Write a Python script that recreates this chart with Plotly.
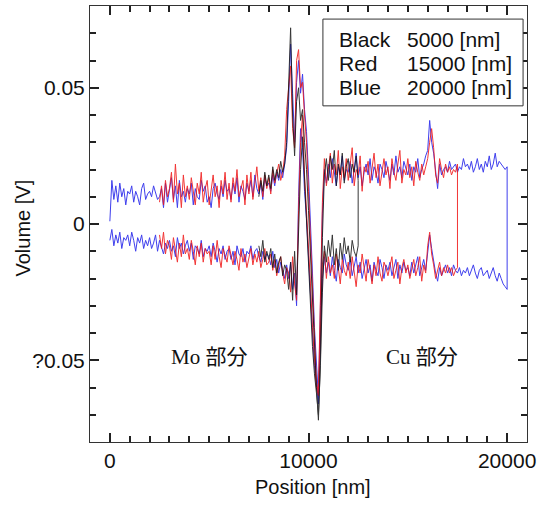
import numpy as np
import plotly.graph_objects as go

# scan data (mV); upper = forward pass, lower = return pass
# blue: 0..20000 nm, step 100
blue_start, blue_end = 0, 20000
blue_upper = [
    1, 16, 9, 14, 8, 15, 10, 13, 7, 12,
    11, 14, 8, 12, 10, 7, 13, 15, 9, 11,
    12, 10, 14, 11, 9, 10, 13, 6, 15, 8,
    12, 17, 9, 14, 6, 16, 10, 12, 8, 13,
    11, 15, 7, 13, 10, 9, 16, 12, 14, 8,
    10, 6, 13, 15, 11, 9, 14, 10, 16, 12,
    13, 9, 15, 11, 17, 8, 14, 12, 9, 15,
    12, 16, 10, 18, 13, 11, 15, 9, 17, 14,
    15, 12, 18, 14, 19, 16, 20, 17, 22, 28,
    45, 66, 48, 30, 52, 60, 48, 55, 42, 34,
    18, 2, -18, -38, -52, -64, -30, 4, 20, 15,
    22, 17, 24, 19, 14, 21, 18, 25, 16, 20,
    19, 23, 15, 20, 26, 17, 21, 14, 19, 22,
    18, 24, 16, 21, 19, 15, 22, 20, 17, 23,
    20, 16, 22, 18, 25, 19, 21, 17, 23, 20,
    18, 22, 16, 21, 19, 24, 17, 20, 22, 25,
    27, 38, 30, 26, 20, 13, 22, 18, 20, 21,
    19, 23, 20, 21, 22, 19, 21, 20, 24, 21,
    22, 20, 23, 19, 21, 24, 20, 22, 19, 23,
    21, 25, 20, 22, 26, 21, 23, 22, 21, 20,
    21,
]
blue_lower = [
    -6, -2, -8, -4, -7, -3, -9, -5, -6, -4,
    -8, -3, -6, -10, -5, -7, -4, -9, -6, -8,
    -5, -9, -7, -4, -10, -6, -8, -11, -7, -9,
    -6, -10, -8, -12, -5, -9, -7, -11, -8, -6,
    -10, -7, -13, -8, -9, -11, -6, -12, -9, -10,
    -8, -12, -7, -10, -14, -9, -11, -8, -13, -10,
    -9, -13, -10, -15, -8, -11, -12, -9, -14, -10,
    -11, -8, -13, -10, -9, -12, -14, -10, -13, -11,
    -12, -15, -10, -16, -13, -18, -14, -17, -20, -15,
    -20, -14, -24, -18, -30, 10, 35, 28, 12, 2,
    -10, -25, -40, -52, -58, -66, -45, -20, -12, -18,
    -14, -19, -12, -17, -21, -13, -16, -18, -11, -15,
    -17, -13, -19, -15, -12, -18, -14, -20, -16, -13,
    -18, -15, -21, -14, -17, -19, -13, -16, -20, -15,
    -17, -14, -19, -16, -13, -20, -15, -18, -14, -17,
    -16, -19, -14, -18, -15, -12, -19, -16, -13, -17,
    -10, -4, -9, -14, -18, -21, -16, -19, -17, -15,
    -18, -16, -19, -15, -17, -18, -16, -19, -17, -18,
    -16, -19, -17, -15, -18, -20, -17, -16, -19, -18,
    -17, -20, -18, -16, -19, -21, -18, -20, -22, -23,
    -24,
]

# red: 2500..17500 nm
red_start, red_end = 2500, 17500
red_upper = [
    8, 14, 7, 16, 10,
    13, 19, 8, 22, 11, 15, 6, 18, 10, 14,
    9, 17, 12, 7, 15, 11, 19, 8, 13, 16,
    7, 12, 18, 10, 14, 6, 16, 11, 19, 9,
    15, 8, 17, 12, 20, 10, 13, 16, 7, 18,
    11, 19, 9, 15, 21, 12, 17, 10, 18, 13,
    17, 11, 20, 15, 18, 22, 16, 19, 25, 42,
    50, 58, 35, 28, 60, 64, 50, 52, 40, 30,
    12, -5, -25, -45, -58, -62, -25, 8, 24, 14,
    20, 26, 15, 22, 18, 27, 13, 21, 17, 24,
    16, 22, 28, 14, 20, 18, 25, 12, 21, 19,
    23, 15, 20, 26, 17, 22, 14, 19, 24, 18,
    21, 13, 24, 19, 16, 22, 27, 15, 20, 18,
    24, 17, 21, 14, 23, 19, 16, 22, 18, 21,
    24, 30, 35, 28, 18, 15, 24, 20, 17, 22,
    19, 21, 18, 20, 19, 22,
]
red_lower = [
    -4, -9, -3, -11, -6,
    -8, -13, -5, -10, -14, -7, -12, -4, -11, -9,
    -13, -6, -10, -15, -8, -12, -7, -14, -9, -11,
    -10, -15, -8, -13, -6, -12, -16, -9, -11, -14,
    -8, -12, -15, -10, -13, -17, -9, -14, -11, -16,
    -12, -9, -15, -11, -14, -10, -16, -13, -9, -15,
    -14, -11, -17, -13, -19, -15, -12, -18, -22, -16,
    -18, -25, -12, -22, -28, 5, 30, 40, 18, 4,
    -8, -22, -38, -50, -60, -63, -40, -15, -10, -20,
    -12, -18, -15, -20, -11, -16, -22, -13, -17, -19,
    -14, -20, -12, -17, -23, -15, -18, -11, -16, -21,
    -13, -17, -22, -15, -19, -12, -18, -21, -14, -16,
    -19, -15, -12, -20, -17, -14, -22, -16, -13, -18,
    -15, -20, -17, -13, -19, -16, -12, -21, -15, -18,
    -8, -3, -11, -15, -20, -17, -14, -19, -16, -18,
    -15, -18, -16, -19, -17, -16,
]

# black: 7500..12500 nm
black_start, black_end = 7500, 12500
black_upper = [
    10, 16, 12, 19, 14,
    18, 13, 21, 16, 20, 17, 23, 19, 22, 30,
    55, 72, 40, 25, 45, 50, 38, 42, 30, 20,
    5, -12, -30, -48, -60, -72, -50, -5, 18, 24,
    16, 25, 20, 27, 14, 22, 18, 26, 15, 21,
    24, 17, 22, 19, 25, 16,
]
black_lower = [
    -8, -12, -6, -14, -10,
    -13, -9, -16, -11, -18, -14, -12, -19, -15, -17,
    -24, -14, -28, -10, -26, -5, 20, 32, 15, -2,
    -15, -30, -45, -55, -62, -70, -52, -25, -8, -14,
    -6, -12, -4, -15, -9, -17, -7, -13, -5, -11,
    -8, -14, -6, -10, -12, -8,
]
step = 100

legend_names = ["Black", "Red", "Blue"]
legend_vals = ["5000 [nm]", "15000 [nm]", "20000 [nm]"]

FONT = "Arial, Liberation Sans, sans-serif"
TICK = "#222"


def loop(start, end, upper, lower):
    xs = np.arange(start, end + 1, step)
    x = np.concatenate([xs, xs[::-1]])
    y = np.concatenate([np.array(upper), np.array(lower)[::-1]]) / 1000.0
    return x, y


fig = go.Figure()
for (s, e, up, lo, col) in [
    (blue_start, blue_end, blue_upper, blue_lower, "rgb(30,30,235)"),
    (red_start, red_end, red_upper, red_lower, "rgb(240,20,20)"),
    (black_start, black_end, black_upper, black_lower, "rgb(20,20,20)"),
]:
    x, y = loop(s, e, up, lo)
    fig.add_trace(go.Scatter(x=x, y=y, mode="lines",
                             line=dict(color=col, width=1), opacity=0.85,
                             showlegend=False, hoverinfo="skip"))

axis_common = dict(showgrid=False, zeroline=False, showline=True,
                   linecolor="#333", linewidth=1, mirror="ticks",
                   ticks="inside", ticklen=9, tickwidth=1.5, tickcolor=TICK,
                   tickmode="linear", tick0=0, exponentformat="none",
                   layer="above traces",
                   tickfont=dict(family=FONT, size=21, color="#111"))

fig.update_xaxes(range=[-1000, 21000], dtick=10000, tickformat="d",
                 minor=dict(dtick=1000, ticks="inside", ticklen=6,
                            tickwidth=1.5, tickcolor=TICK, showgrid=False),
                 **axis_common)
fig.update_yaxes(range=[-0.08, 0.08], dtick=0.05,
                 labelalias={"\u22120.05": "?0.05", "-0.05": "?0.05"},
                 minor=dict(dtick=0.01, ticks="inside", ticklen=6,
                            tickwidth=1.5, tickcolor=TICK, showgrid=False),
                 **axis_common)

ann = []
# axis titles
ann.append(dict(text="Position [nm]", x=0.51, y=-0.103, xref="paper", yref="paper",
                xanchor="center", yanchor="middle", showarrow=False,
                font=dict(family=FONT, size=20, color="#111")))
ann.append(dict(text="Volume [V]", x=-0.153, y=0.49, xref="paper", yref="paper",
                xanchor="center", yanchor="middle", textangle=-90, showarrow=False,
                font=dict(family=FONT, size=20, color="#111")))
# region labels
for txt, xv in [("Mo 部分", 5000), ("Cu 部分", 15700)]:
    ann.append(dict(text=txt, x=xv, y=-0.0488, xref="x", yref="y", showarrow=False,
                    font=dict(family="Liberation Serif, Noto Sans CJK JP, serif",
                              size=21, color="#111")))
# legend box text
for i, (nm, vl) in enumerate(zip(legend_names, legend_vals)):
    yy = 0.924 - i * 0.055
    ann.append(dict(text=nm, x=0.565, y=yy, xref="paper", yref="paper",
                    xanchor="left", yanchor="middle", showarrow=False,
                    font=dict(family=FONT, size=21, color="#111")))
    ann.append(dict(text=vl, x=0.721, y=yy, xref="paper", yref="paper",
                    xanchor="left", yanchor="middle", showarrow=False,
                    font=dict(family=FONT, size=21, color="#111")))

fig.update_layout(
    template="none",
    width=542, height=506,
    margin=dict(l=90, r=15, t=6, b=64),
    plot_bgcolor="white", paper_bgcolor="white",
    annotations=ann,
    shapes=[dict(type="rect", xref="paper", yref="paper",
                 x0=0.533, x1=0.991, y0=0.771, y1=0.970,
                 line=dict(color="#333", width=1), fillcolor="white")],
)

fig.write_html("out.html", config={"displayModeBar": False},
               post_script="document.body.style.margin='0px';")
